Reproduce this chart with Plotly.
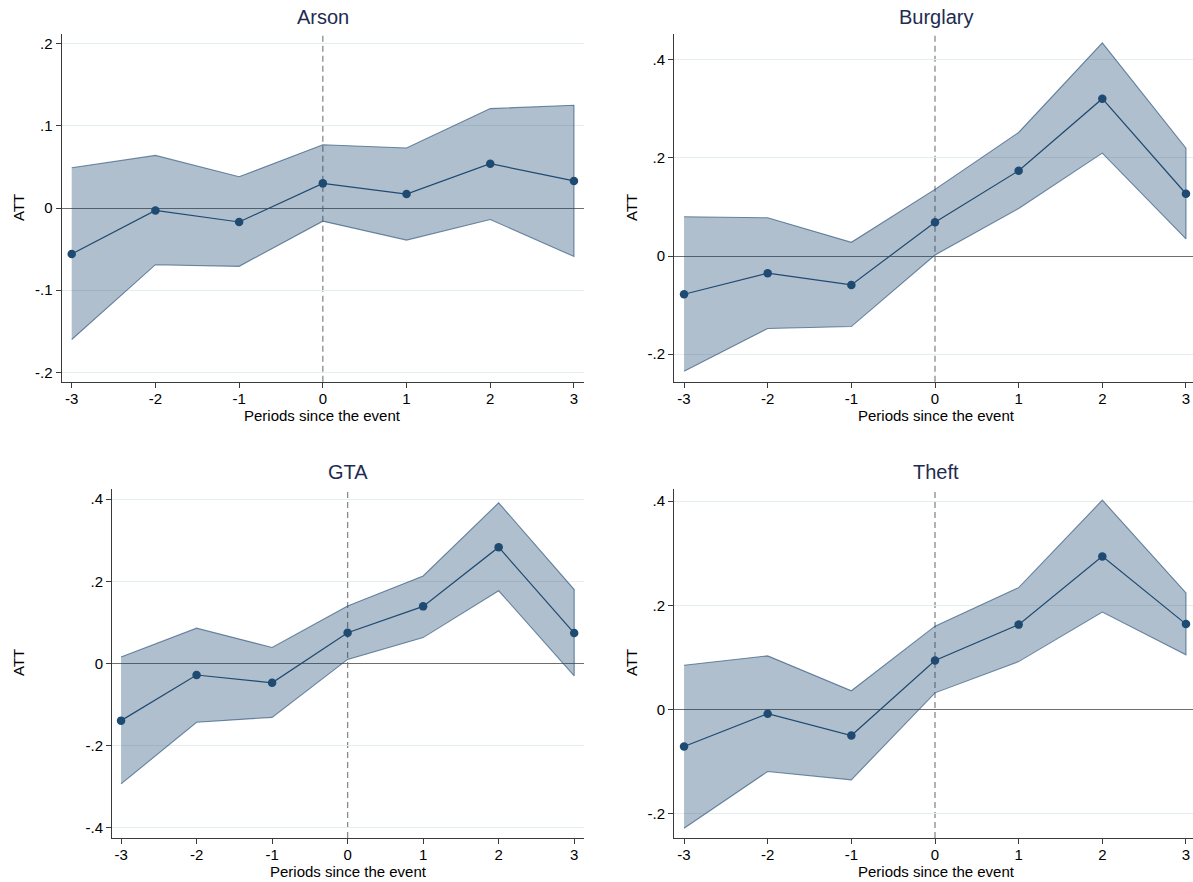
import plotly.graph_objects as go

periods = [-3, -2, -1, 0, 1, 2, 3]

arson_att = [-0.056, -0.003, -0.017, 0.030, 0.017, 0.054, 0.033]
arson_hi = [0.049, 0.064, 0.038, 0.077, 0.073, 0.121, 0.125]
arson_lo = [-0.160, -0.069, -0.071, -0.016, -0.039, -0.014, -0.059]

burglary_att = [-0.078, -0.035, -0.059, 0.069, 0.174, 0.321, 0.127]
burglary_hi = [0.080, 0.078, 0.028, 0.136, 0.252, 0.435, 0.220]
burglary_lo = [-0.235, -0.148, -0.144, 0.002, 0.097, 0.210, 0.035]

gta_att = [-0.139, -0.028, -0.047, 0.075, 0.139, 0.283, 0.074]
gta_hi = [0.016, 0.086, 0.039, 0.140, 0.213, 0.391, 0.180]
gta_lo = [-0.293, -0.143, -0.131, 0.010, 0.063, 0.177, -0.030]

theft_att = [-0.071, -0.008, -0.050, 0.094, 0.163, 0.294, 0.164]
theft_hi = [0.085, 0.103, 0.036, 0.160, 0.234, 0.402, 0.224]
theft_lo = [-0.228, -0.119, -0.135, 0.032, 0.092, 0.187, 0.105]

titles = ["Arson", "Burglary", "GTA", "Theft"]
x_ticks = [-3, -2, -1, 0, 1, 2, 3]
x_ticktext = ["-3", "-2", "-1", "0", "1", "2", "3"]
y_ticks_small = [-0.2, -0.1, 0, 0.1, 0.2]
y_text_small = ["-.2", "-.1", "0", ".1", ".2"]
y_ticks_mid = [-0.2, 0, 0.2, 0.4]
y_text_mid = ["-.2", "0", ".2", ".4"]
y_ticks_big = [-0.4, -0.2, 0, 0.2, 0.4]
y_text_big = ["-.4", "-.2", "0", ".2", ".4"]

W, H = 1193, 882
FONT = "Liberation Sans, Arial, Helvetica, sans-serif"
NAVY = "#1f4a72"
FILL = "rgba(26,71,111,0.35)"
EDGE = "rgba(40,80,120,0.65)"
GRID = "#e5eeef"
AXIS = "#3a3a3a"

panels = [
    dict(att=arson_att, hi=arson_hi, lo=arson_lo, title=titles[0],
         px=(61.5, 584), py=(34, 381.7), xr=(-3.122, 3.12), yr=(-0.2114, 0.2118),
         yt=y_ticks_small, ytt=y_text_small, tx=322.5, ty=17, atx=18, aty=208, xtx=322.5, xty=414),
    dict(att=burglary_att, hi=burglary_hi, lo=burglary_lo, title=titles[1],
         px=(674, 1193), py=(34, 381.7), xr=(-3.12, 3.084), yr=(-0.2565, 0.453),
         yt=y_ticks_mid, ytt=y_text_mid, tx=936, ty=17, atx=631, aty=208, xtx=936, xty=414),
    dict(att=gta_att, hi=gta_hi, lo=gta_lo, title=titles[2],
         px=(112, 584), py=(489, 838), xr=(-3.12, 3.13), yr=(-0.4246, 0.4246),
         yt=y_ticks_big, ytt=y_text_big, tx=348, ty=472, atx=18, aty=663, xtx=348, xty=870),
    dict(att=theft_att, hi=theft_hi, lo=theft_lo, title=titles[3],
         px=(674, 1193), py=(489, 838), xr=(-3.12, 3.084), yr=(-0.2467, 0.4234),
         yt=y_ticks_mid, ytt=y_text_mid, tx=936, ty=472, atx=631, aty=663, xtx=936, xty=870),
]

fig = go.Figure()
layout = dict(
    width=W, height=H,
    margin=dict(l=0, r=0, t=0, b=0),
    paper_bgcolor="white", plot_bgcolor="white",
    showlegend=False,
    font=dict(family=FONT, size=15, color="black"),
)
annotations = []
shapes = []

for i, p in enumerate(panels, start=1):
    xa = "x" if i == 1 else f"x{i}"
    ya = "y" if i == 1 else f"y{i}"
    xkey = "xaxis" if i == 1 else f"xaxis{i}"
    ykey = "yaxis" if i == 1 else f"yaxis{i}"

    band_x = periods + periods[::-1]
    band_y = p["hi"] + p["lo"][::-1]
    fig.add_trace(go.Scatter(
        x=band_x, y=band_y, xaxis=xa, yaxis=ya, mode="lines",
        fill="toself", fillcolor=FILL, line=dict(color=EDGE, width=1.1),
        hoverinfo="skip", cliponaxis=False))
    fig.add_trace(go.Scatter(
        x=periods, y=p["att"], xaxis=xa, yaxis=ya, mode="lines+markers",
        line=dict(color=NAVY, width=1.2), cliponaxis=False,
        marker=dict(color=NAVY, size=8.5, line=dict(width=0))))

    layout[xkey] = dict(
        domain=[p["px"][0] / W, p["px"][1] / W], anchor=ya,
        range=list(p["xr"]), tickmode="array", tickvals=x_ticks, ticktext=x_ticktext,
        showgrid=False, zeroline=False, showline=True, linecolor=AXIS, linewidth=1,
        ticks="outside", ticklen=5, tickcolor=AXIS, tickwidth=1, ticklabelstandoff=-2,
        tickfont=dict(size=15, color="black"), automargin=False, fixedrange=True)
    layout[ykey] = dict(
        domain=[1 - p["py"][1] / H, 1 - p["py"][0] / H], anchor=xa,
        range=list(p["yr"]), tickmode="array", tickvals=p["yt"], ticktext=p["ytt"],
        showgrid=True, gridcolor=GRID, gridwidth=1,
        zeroline=True, zerolinecolor="#6e6e6e", zerolinewidth=1,
        showline=True, linecolor=AXIS, linewidth=1,
        ticks="outside", ticklen=5, tickcolor=AXIS, tickwidth=1,
        tickfont=dict(size=15, color="black"), automargin=False, fixedrange=True)

    shapes.append(dict(type="line", xref=xa, yref=f"{ya} domain", x0=0, x1=0, y0=0, y1=1,
                       line=dict(color="#8a8a8a", width=1.3, dash="6px,4px"), layer="below"))

    annotations.append(dict(text=p["title"], x=p["tx"] / W, y=1 - p["ty"] / H,
                            xref="paper", yref="paper", showarrow=False,
                            xanchor="center", yanchor="middle",
                            font=dict(size=20, color="#1e2c50", family=FONT)))
    annotations.append(dict(text="ATT", x=p["atx"] / W, y=1 - p["aty"] / H,
                            xref="paper", yref="paper", showarrow=False, textangle=-90,
                            xanchor="center", yanchor="middle",
                            font=dict(size=15, color="black", family=FONT)))
    annotations.append(dict(text="Periods since the event", x=p["xtx"] / W, y=1 - (p["xty"] + 1) / H,
                            xref="paper", yref="paper", showarrow=False,
                            xanchor="center", yanchor="middle",
                            font=dict(size=15, color="black", family=FONT)))

layout["annotations"] = annotations
layout["shapes"] = shapes
fig.update_layout(**layout)
fig.write_html(
    "out.html",
    config={"displayModeBar": False},
    post_script="document.body.style.margin='0';document.body.style.padding='0';"
                "document.body.style.overflow='hidden';"
                "document.documentElement.style.overflow='hidden';",
)
